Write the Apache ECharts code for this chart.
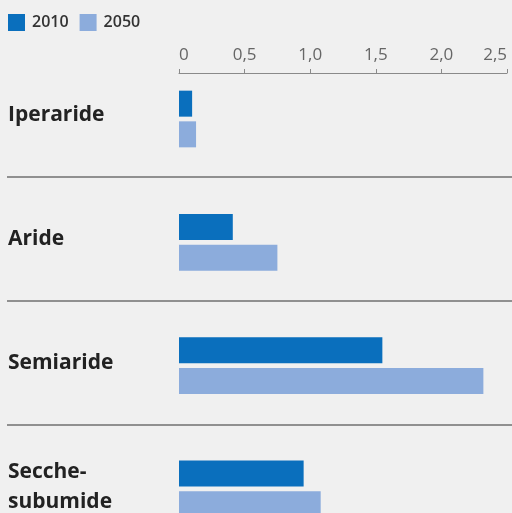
<!DOCTYPE html>
<html>
<head>
<meta charset="utf-8">
<script src="https://cdn.jsdelivr.net/npm/echarts@6/dist/echarts.min.js"></script>
<style>
  html, body { margin: 0; padding: 0; background: #f0f0f0; }
  #chart { width: 512px; height: 513px; }
</style>
</head>
<body>
<div id="chart"></div>
<script>
// categorie e valori
const categories = ['Iperaride', 'Aride', 'Semiaride', 'Secche-\nsubumide']
const values2010 = [0.10, 0.41, 1.55, 0.95]
const values2050 = [0.13, 0.75, 2.32, 1.08]
const seriesNames = ['2010', '2050']
const xTicks = [0, 0.5, 1, 1.5, 2, 2.5]

const chart = echarts.init(document.getElementById('chart'))

chart.setOption({
  backgroundColor: '#f0f0f0',
  animation: false,
  color: ['#0a6fbd', '#8cacdc'],
  legend: {
    data: seriesNames,
    left: 3,
    top: 9,
    icon: 'rect',
    itemWidth: 17,
    itemHeight: 17,
    itemGap: 11,
    textStyle: {
      fontFamily: 'Open Sans',
      fontSize: 16,
      fontWeight: 600,
      color: '#333',
      padding: [0, 0, 0, 2]
    }
  },
  grid: [
    // grafico a barre (l'ultima fascia esce dal riquadro)
    { left: 179, right: 5, top: 57.35, height: 493.2, outerBoundsMode: 'none', containLabel: false },
    // etichette e linee di separazione
    { left: 7, right: 0, top: 53, height: 496, outerBoundsMode: 'none', containLabel: false }
  ],
  xAxis: [
    {
      gridIndex: 0,
      type: 'value',
      position: 'top',
      offset: -15.65,
      min: xTicks[0],
      max: xTicks[xTicks.length - 1],
      interval: 0.5,
      axisLine: { show: true, lineStyle: { color: '#8a8a8a', width: 1 } },
      axisTick: { show: true, length: 4, lineStyle: { color: '#8a8a8a' } },
      splitLine: { show: false },
      axisLabel: {
        margin: 9,
        fontFamily: 'Open Sans',
        fontSize: 17,
        color: '#666',
        alignMinLabel: 'left',
        alignMaxLabel: 'right',
        formatter: v => (v === 0 ? '0' : v.toFixed(1).replace('.', ','))
      }
    },
    {
      gridIndex: 1,
      type: 'value',
      show: false
    }
  ],
  yAxis: [
    {
      gridIndex: 0,
      type: 'category',
      data: categories,
      inverse: true,
      axisLine: { show: false },
      axisTick: { show: false },
      axisLabel: { show: false }
    },
    {
      gridIndex: 1,
      type: 'category',
      data: categories,
      inverse: true,
      axisLine: { show: false },
      axisTick: { show: false },
      axisLabel: {
        inside: true,
        margin: 1,
        fontFamily: 'Open Sans',
        fontSize: 21,
        fontWeight: 'bold',
        lineHeight: 30,
        color: '#222'
      },
      splitLine: {
        show: true,
        interval: (index) => index > 0,
        lineStyle: { color: '#707070', width: 1.5 }
      }
    }
  ],
  series: [
    {
      name: seriesNames[0],
      type: 'bar',
      xAxisIndex: 0,
      yAxisIndex: 0,
      data: values2010,
      barWidth: 26,
      barGap: '18%'
    },
    {
      name: seriesNames[1],
      type: 'bar',
      xAxisIndex: 0,
      yAxisIndex: 0,
      data: values2050,
      barWidth: 26,
      barGap: '18%'
    }
  ]
})
</script>
</body>
</html>
